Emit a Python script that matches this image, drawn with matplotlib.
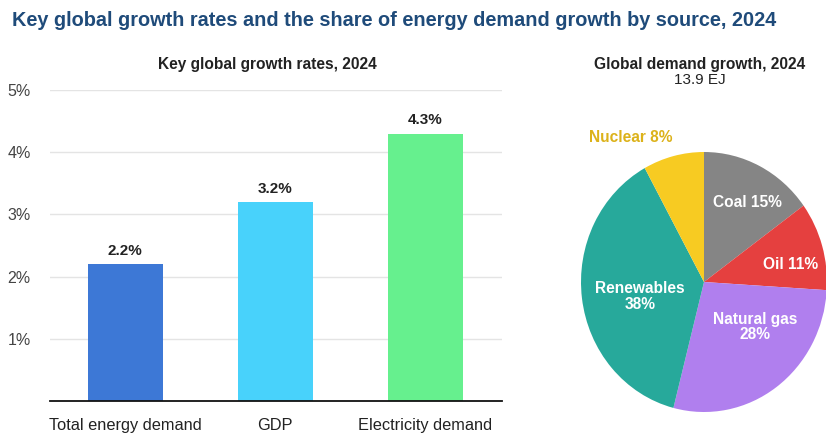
import matplotlib
matplotlib.use("Agg")
import matplotlib.pyplot as plt
import numpy as np

plt.rcParams['font.family'] = ['Liberation Sans', 'DejaVu Sans']

# Key global growth rates, 2024 (%)
growth_categories = ["Total energy demand", "GDP", "Electricity demand"]
growth_values = [2.2, 3.2, 4.3]
growth_colors = ["#3d78d6", "#48d2fb", "#66f08e"]
ytick_values = [1, 2, 3, 4, 5]

# Share of global energy demand growth by source, 2024 (%)
sources = ["Coal", "Oil", "Natural gas", "Renewables", "Nuclear"]
shares = [15, 11, 28, 38, 8]
source_colors = ["#858585", "#e5403f", "#b07fee", "#27a99b", "#f7cb22"]
total_growth = "13.9 EJ"

fig = plt.figure(figsize=(8.26, 4.34), dpi=100)
W, H = 826, 434

def fig_rect(x0, y0, x1, y1):
    return [x0 / W, 1 - y1 / H, (x1 - x0) / W, (y1 - y0) / H]

fig.text(12 / W, 1 - 20 / H,
         "Key global growth rates and the share of energy demand growth by source, 2024",
         fontsize=14.35, fontweight="bold", color="#1f4b7a", va="center", ha="left")

# ---- bar chart ----
ax = fig.add_axes(fig_rect(50, 90, 502, 401))
x = np.arange(len(growth_categories))
bars = ax.bar(x, growth_values, width=0.5, color=growth_colors, zorder=3)
for b, v in zip(bars, growth_values):
    ax.text(b.get_x() + b.get_width() / 2, v + 0.1, f"{v:.1f}%",
            ha="center", va="bottom", fontsize=11, fontweight="bold", color="#222222")
ax.set_xlim(-0.5, len(x) - 0.5 + 0.013)
ax.set_ylim(0, 5)
ax.set_yticks(ytick_values)
ax.set_yticklabels([f"{t}%" for t in ytick_values], fontsize=11.5, color="#444444")
ax.set_xticks(x)
ax.set_xticklabels(growth_categories, fontsize=11.8, color="#222222")
ax.yaxis.grid(True, color="#e4e4e4", linewidth=1, zorder=0)
ax.tick_params(axis="both", length=0)
ax.tick_params(axis="y", pad=14)
ax.tick_params(axis="x", pad=12)
for s in ["top", "right", "left"]:
    ax.spines[s].set_visible(False)
ax.spines["bottom"].set_color("#111111")
ax.spines["bottom"].set_linewidth(1.3)
ax.spines["bottom"].set_zorder(4)
fig.text(267 / W, 1 - 64 / H, "Key global growth rates, 2024", fontsize=11.2,
         fontweight="bold", color="#222222", ha="center", va="center")

# ---- pie chart ----
fig.text(700 / W, 1 - 64 / H, "Global demand growth, 2024", fontsize=11.2,
         fontweight="bold", color="#222222", ha="center", va="center")
fig.text(700 / W, 1 - 80 / H, total_growth, fontsize=11,
         color="#222222", ha="center", va="center")

pax = fig.add_axes(fig_rect(581, 152, 827, 412))
wedges, _ = pax.pie(shares, colors=source_colors, startangle=90, counterclock=False,
                    radius=1, wedgeprops=dict(linewidth=0))
pax.set_aspect("auto")
pax.set_xlim(-1, 1)
pax.set_ylim(-1, 1)

# label placement (radius, angle in degrees) for each source
label_pos = [(0.71, 60), (0.72, 11), (0.54, -40), (0.53, 192), (1.26, 118)]
for name, share, (r, ang), w in zip(sources, shares, label_pos, wedges):
    a = np.deg2rad(ang)
    if name == "Nuclear":
        txt, col = f"{name} {share}%", "#dcb21a"
    elif name in ("Natural gas", "Renewables"):
        txt, col = f"{name}\n{share}%", "white"
    else:
        txt, col = f"{name} {share}%", "white"
    pax.text(r * np.cos(a), r * np.sin(a), txt, ha="center", va="center",
             fontsize=11.2, fontweight="bold", color=col, linespacing=1.05,
             clip_on=False)

fig.savefig("out.png", dpi=100)
